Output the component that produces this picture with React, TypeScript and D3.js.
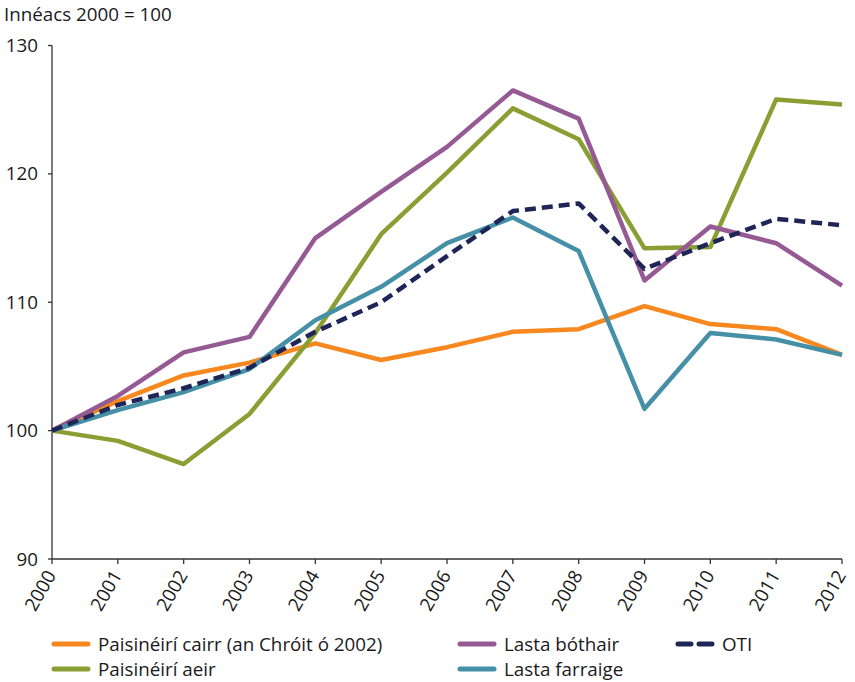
import React from 'react'
import * as d3 from 'd3'

const years = [2000, 2001, 2002, 2003, 2004, 2005, 2006, 2007, 2008, 2009, 2010, 2011, 2012]

const carPassengers = [100, 102.3, 104.3, 105.3, 106.8, 105.5, 106.5, 107.7, 107.9, 109.7, 108.3, 107.9, 105.9]
const airPassengers = [100, 99.2, 97.4, 101.3, 107.6, 115.3, 120.1, 125.1, 122.7, 114.2, 114.3, 125.8, 125.4]
const roadFreight = [100, 102.7, 106.1, 107.3, 115.0, 118.6, 122.1, 126.5, 124.3, 111.7, 115.9, 114.6, 111.3]
const seaFreight = [100, 101.6, 103.0, 104.8, 108.6, 111.2, 114.6, 116.6, 114.0, 101.7, 107.6, 107.1, 105.9]
const gdp = [100, 102.0, 103.3, 104.9, 107.7, 110.0, 113.6, 117.1, 117.7, 112.6, 114.6, 116.5, 116.0]

const yTicks = [90, 100, 110, 120, 130]

interface ISeries {
	name: string
	values: number[]
	color: string
	dashed?: boolean
}

const series: ISeries[] = [
	{ name: 'Paisinéirí cairr (an Chróit ó 2002)', values: carPassengers, color: '#F7881F' },
	{ name: 'Paisinéirí aeir', values: airPassengers, color: '#8A9F33' },
	{ name: 'Lasta bóthair', values: roadFreight, color: '#955A93' },
	{ name: 'Lasta farraige', values: seaFreight, color: '#4590A6' },
	{ name: 'OTI', values: gdp, color: '#1F2657', dashed: true }
]

// legend order in the picture: column by column
const legendPos = [
	{ idx: 0, x: 52, y: 644 },
	{ idx: 1, x: 52, y: 669 },
	{ idx: 2, x: 458, y: 644 },
	{ idx: 3, x: 458, y: 669 },
	{ idx: 4, x: 676, y: 644 }
]

const font = '"Open Sans", "Noto Sans", sans-serif'
const fs = 18.8

const App = () => {
	const width = 855
	const height = 682
	const left = 52
	const right = 842
	const top = 45.5
	const bottom = 559

	const x = d3.scaleLinear().domain([2000, 2012]).range([left, right])
	const y = d3.scaleLinear().domain([90, 130]).range([bottom, top])

	const line = d3
		.line<number>()
		.x((_, i) => x(years[i]))
		.y(d => y(d))

	return (
		<svg
			width={width}
			height={height}
			style={{ position: 'absolute', left: 0, top: 0, fontFamily: font }}
		>
			<rect width={width} height={height} fill="#fff" />
			<text x={4} y={21} fontSize={fs} fill="#1a1a1a">
				Innéacs 2000 = 100
			</text>

			{/* y axis */}
			<line x1={left} x2={left} y1={top} y2={bottom} stroke="#333" strokeWidth={1.3} />
			{yTicks.map(t => (
				<g key={t}>
					<line x1={left - 4} x2={left} y1={y(t)} y2={y(t)} stroke="#333" strokeWidth={1.3} />
					<text x={left - 14} y={y(t)} dy="0.35em" textAnchor="end" fontSize={fs} fill="#1a1a1a">
						{t}
					</text>
				</g>
			))}

			{/* x axis */}
			<line x1={left} x2={right} y1={bottom} y2={bottom} stroke="#333" strokeWidth={1.3} />
			{years.map(yr => (
				<g key={yr} transform={`translate(${x(yr)},${bottom})`}>
					<line y1={0} y2={5} stroke="#333" strokeWidth={1.3} />
					<text
						transform="translate(-1,13) rotate(-60)"
						textAnchor="end"
						dy="0.35em"
						fontSize={fs}
						fill="#1a1a1a"
					>
						{yr}
					</text>
				</g>
			))}

			{/* lines */}
			{series.map(s => (
				<path
					key={s.name}
					d={line(s.values) || ''}
					fill="none"
					stroke={s.color}
					strokeWidth={4.5}
					strokeLinejoin="round"
					strokeDasharray={s.dashed ? '11 6' : undefined}
				/>
			))}

			{/* legend */}
			{legendPos.map(p => {
				const s = series[p.idx]
				return (
					<g key={s.name}>
						<line
							x1={p.x + 2}
							x2={p.x + 36}
							y1={p.y}
							y2={p.y}
							stroke={s.color}
							strokeWidth={5}
							strokeLinecap="round"
							strokeDasharray={s.dashed ? '13 8' : undefined}
						/>
						<text x={p.x + 46} y={p.y} dy="0.35em" fontSize={fs} fill="#1a1a1a">
							{s.name}
						</text>
					</g>
				)
			})}
		</svg>
	)
}

export default App
